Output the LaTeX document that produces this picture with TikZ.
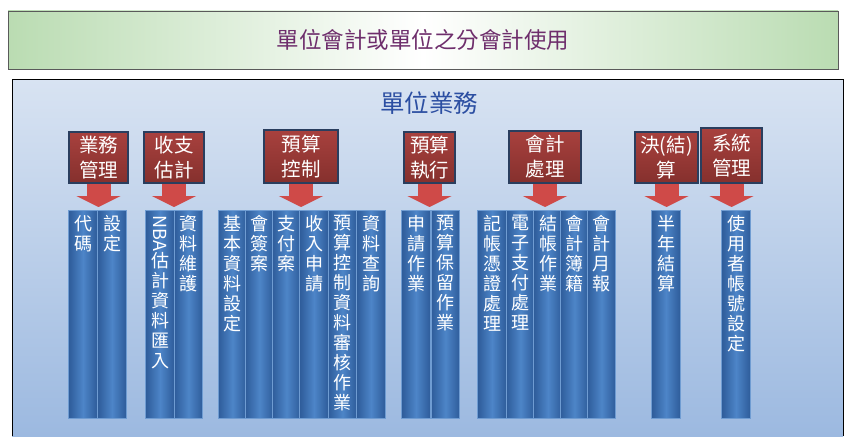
\documentclass[tikz,border=0pt]{standalone}
\usepackage{fontspec}
\setmainfont{Noto Sans CJK TC}
\usepackage{graphicx}
\usetikzlibrary{positioning, arrows.meta}

\definecolor{bannergreen}{HTML}{BADCB2}
\definecolor{bannerline}{HTML}{5A5A5A}
\definecolor{titlepurple}{HTML}{6E2E6C}
\definecolor{paneltop}{HTML}{D8E3F2}
\definecolor{panelbot}{HTML}{9CB9E0}
\definecolor{unitblue}{HTML}{2C4FA2}
\definecolor{hdrtop}{HTML}{A8413E}
\definecolor{hdrbot}{HTML}{85302D}
\definecolor{hdredge}{HTML}{2A3E5E}
\definecolor{arrowred}{HTML}{CF4A48}
\definecolor{coldark}{HTML}{2E5C9A}
\definecolor{colmid}{HTML}{4D85C8}
\definecolor{coledge}{HTML}{6F9CD2}

\begin{document}
\begin{tikzpicture}[
    x=1pt, y=-1pt,
    banner/.style={draw=bannerline, line width=0.8pt, minimum width=830pt, minimum height=58pt,
        left color=bannergreen, right color=bannergreen, middle color=white,
        text=titlepurple, font=\fontsize{22.5}{26}\selectfont},
    unittitle/.style={text=unitblue, font=\fontsize{24.5}{28}\selectfont},
    hdr/.style={draw=hdredge, line width=1.5pt, top color=hdrtop, bottom color=hdrbot,
        minimum height=51pt, inner sep=0pt, align=center, text=white,
        font=\fontsize{19.5}{25}\selectfont},
    flow/.style={draw=arrowred, line width=24pt, shorten >=3pt,
        -{Triangle[width=44pt, length=11pt]}},
    col/.style={draw=coledge, line width=0.6pt, left color=coldark, right color=coldark,
        middle color=colmid, minimum width=28.5pt, minimum height=208pt, anchor=north},
    coltxt/.style={inner sep=0pt, align=center, text=white,
        font=\fontsize{18}{20}\selectfont}
]
    \useasboundingbox (0,0) rectangle (845,436);

    % Top banner
    \node[banner] (use) at (423,40) {單位會計或單位之分會計使用};

    % Unit panel (runs off the bottom)
    \fill[top color=paneltop, bottom color=panelbot] (12,79) rectangle (843,436);
    \draw[line width=0.8pt] (12,436) -- (12,79) -- (843,79) -- (843,436);
    \node[unittitle] (unit) at (429,103) {單位業務};

    % Function headers
    \node[hdr, minimum width=59pt] (mgmt) at (98.5,157.5) {業務\\管理};
    \node[hdr, minimum width=60pt] (est) at (174,157.5) {收支\\估計};
    \node[hdr, minimum width=74pt, minimum height=53pt] (ctrl) at (301,156.5) {預算\\控制};
    \node[hdr, minimum width=51pt] (exec) at (429.5,157.5) {預算\\執行};
    \node[hdr, minimum width=72pt, minimum height=52pt] (acct) at (545,157) {會計\\處理};
    \node[hdr, minimum width=63pt] (close) at (666.5,157.5) {決(結)\\算};
    \node[hdr, minimum width=61pt, minimum height=55pt] (sys) at (731.5,155.5) {系統\\管理};

    % Task columns
    \node[col] (c1) at (83,210) {};
    \node[col] (c2) at (112,210) {};
    \node[col] (c3) at (160,210) {};
    \node[col] (c4) at (188.5,210) {};
    \node[col] (c5) at (232.5,210) {};
    \node[col] (c6) at (259.5,210) {};
    \node[col] (c7) at (286.5,210) {};
    \node[col] (c8) at (314,210) {};
    \node[col] (c9) at (342.5,210) {};
    \node[col] (c10) at (371,210) {};
    \node[col] (c11) at (416,210) {};
    \node[col] (c12) at (445.5,210) {};
    \node[col] (c13) at (492,210) {};
    \node[col] (c14) at (520.5,210) {};
    \node[col] (c15) at (548,210) {};
    \node[col] (c16) at (574.5,210) {};
    \node[col] (c17) at (601.5,210) {};
    \node[col] (c18) at (666,210) {};
    \node[col] (c19) at (736,210) {};

    % Column texts
    \node[coltxt, below=5pt of c1.north] (t1) {代\\碼};
    \node[coltxt, below=5pt of c2.north] (t2) {設\\定};
    \node[coltxt, below=5pt of c3.north] (t3) {\rotatebox[origin=c]{-90}{NBA}\\估\\計\\資\\料\\匯\\入};
    \node[coltxt, below=5pt of c4.north] (t4) {資\\料\\維\\護};
    \node[coltxt, below=5pt of c5.north] (t5) {基\\本\\資\\料\\設\\定};
    \node[coltxt, below=5pt of c6.north] (t6) {會\\簽\\案};
    \node[coltxt, below=5pt of c7.north] (t7) {支\\付\\案};
    \node[coltxt, below=5pt of c8.north] (t8) {收\\入\\申\\請};
    \node[coltxt, below=5pt of c9.north] (t9) {預\\算\\控\\制\\資\\料\\審\\核\\作\\業};
    \node[coltxt, below=5pt of c10.north] (t10) {資\\料\\查\\詢};
    \node[coltxt, below=5pt of c11.north] (t11) {申\\請\\作\\業};
    \node[coltxt, below=5pt of c12.north] (t12) {預\\算\\保\\留\\作\\業};
    \node[coltxt, below=5pt of c13.north] (t13) {記\\帳\\憑\\證\\處\\理};
    \node[coltxt, below=5pt of c14.north] (t14) {電\\子\\支\\付\\處\\理};
    \node[coltxt, below=5pt of c15.north] (t15) {結\\帳\\作\\業};
    \node[coltxt, below=5pt of c16.north] (t16) {會\\計\\簿\\籍};
    \node[coltxt, below=5pt of c17.north] (t17) {會\\計\\月\\報};
    \node[coltxt, below=5pt of c18.north] (t18) {半\\年\\結\\算};
    \node[coltxt, below=5pt of c19.north] (t19) {使\\用\\者\\帳\\號\\設\\定};

    % Arrows from headers down to their columns
    \draw[flow] (mgmt.south) -- (mgmt.south |- c1.north);
    \draw[flow] (est.south) -- (est.south |- c3.north);
    \draw[flow] (ctrl.south) -- (ctrl.south |- c7.north);
    \draw[flow] (exec.south) -- (exec.south |- c11.north);
    \draw[flow] (acct.south) -- (acct.south |- c15.north);
    \draw[flow] (close.south) -- (close.south |- c18.north);
    \draw[flow] (sys.south) -- (sys.south |- c19.north);

\end{tikzpicture}
\end{document}
